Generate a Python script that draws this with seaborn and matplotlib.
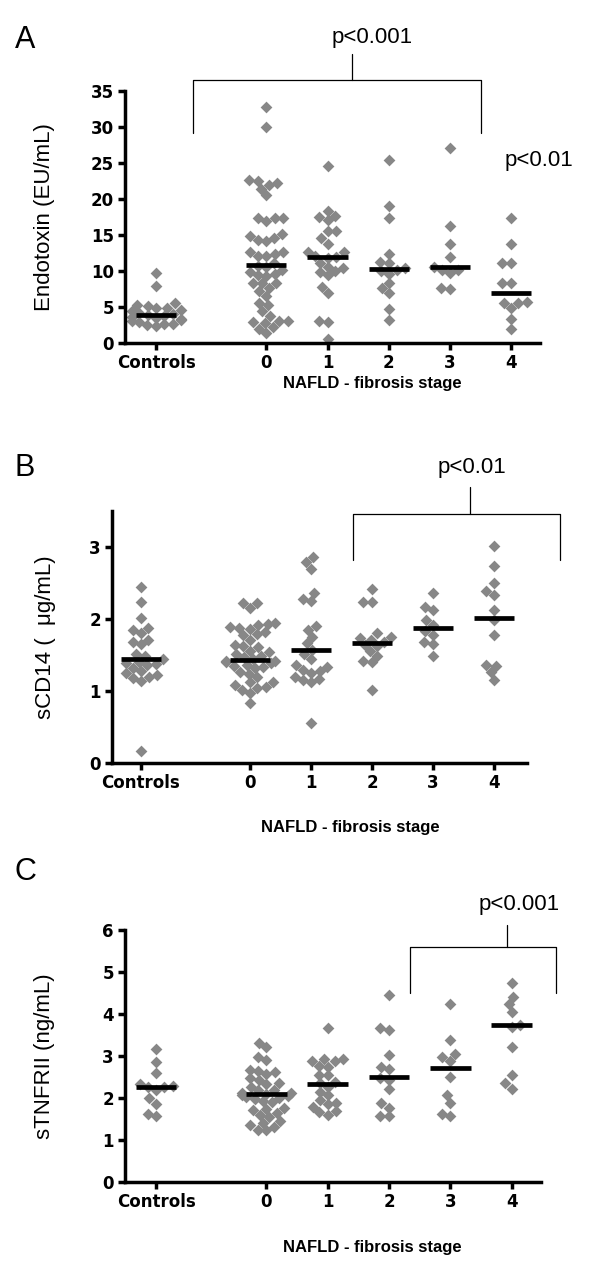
import pandas as pd
import matplotlib
matplotlib.use("Agg")
from matplotlib import pyplot as plt
import seaborn as sns

groups = ["Controls", "0", "1", "2", "3", "4"]

# A - endotoxin (EU/mL)
endo_controls = [9.7, 7.9, 5.5, 5.3, 5.2, 4.9, 4.8, 4.6, 4.4, 4.2, 4.0, 3.9,
                 3.8, 3.6, 3.5, 3.3, 3.2, 3.0, 2.9, 2.7, 2.6, 2.5, 2.3]
endo_f0 = [32.8, 30.0, 22.6, 22.5, 22.2, 21.9, 21.4, 20.5, 17.4, 17.3, 17.3, 17.0,
           15.1, 14.9, 14.6, 14.3, 14.1, 12.7, 12.7, 12.4, 12.1, 12.1, 11.1, 10.7,
           10.5, 10.2, 9.8, 9.6, 9.4, 9.3, 8.4, 8.3, 8.3, 7.6, 7.2, 6.5, 5.6, 5.3,
           4.4, 3.8, 3.0, 3.0, 2.9, 2.8, 2.2, 2.0, 1.4]
endo_f1 = [24.6, 18.4, 17.6, 17.5, 17.1, 15.6, 15.5, 14.6, 13.8, 12.7, 12.6, 12.1,
           12.0, 11.8, 11.1, 10.6, 10.4, 10.0, 9.9, 9.4, 7.8, 6.9, 3.0, 2.9, 0.5]
endo_f2 = [25.4, 19.0, 17.3, 12.3, 11.2, 11.1, 10.4, 10.1, 10.0, 9.6, 8.3, 7.7,
           7.0, 4.7, 3.2]
endo_f3 = [27.1, 16.2, 13.7, 11.9, 10.6, 10.2, 10.2, 9.7, 7.6, 7.5]
endo_f4 = [17.3, 13.7, 11.1, 11.1, 8.3, 8.3, 5.7, 5.5, 5.5, 4.8, 3.4, 2.0]
endo_median = [3.9, 10.9, 12.0, 10.3, 10.5, 7.0]

# B - sCD14 (ug/mL)
cd14_controls = [2.45, 2.24, 2.02, 1.88, 1.85, 1.81, 1.71, 1.68, 1.65, 1.51, 1.49,
                 1.45, 1.40, 1.39, 1.38, 1.36, 1.32, 1.28, 1.25, 1.22, 1.19, 1.18,
                 1.14, 0.16]
cd14_f0 = [2.22, 2.22, 2.15, 1.95, 1.93, 1.91, 1.89, 1.88, 1.86, 1.82, 1.79, 1.78,
           1.71, 1.64, 1.62, 1.61, 1.55, 1.54, 1.51, 1.48, 1.47, 1.44, 1.42, 1.41,
           1.40, 1.39, 1.36, 1.35, 1.34, 1.32, 1.27, 1.24, 1.20, 1.13, 1.12, 1.08,
           1.06, 1.04, 1.01, 0.97, 0.84]
cd14_f1 = [2.86, 2.79, 2.70, 2.36, 2.28, 2.25, 1.90, 1.85, 1.75, 1.66, 1.57, 1.52,
           1.45, 1.36, 1.34, 1.29, 1.28, 1.25, 1.20, 1.16, 1.15, 1.12, 0.56]
cd14_f2 = [2.41, 2.24, 2.23, 1.80, 1.75, 1.74, 1.71, 1.68, 1.64, 1.62, 1.55, 1.49,
           1.41, 1.40, 1.01]
cd14_f3 = [2.36, 2.16, 2.12, 1.99, 1.92, 1.84, 1.78, 1.68, 1.65, 1.48]
cd14_f4 = [3.02, 2.74, 2.50, 2.39, 2.33, 2.13, 1.99, 1.78, 1.36, 1.35, 1.26, 1.15]
cd14_median = [1.44, 1.43, 1.57, 1.67, 1.88, 2.02]

# C - sTNFRII (ng/mL)
tnf_controls = [3.16, 2.85, 2.59, 2.33, 2.28, 2.27, 2.26, 2.20, 1.99, 1.86, 1.61, 1.56]
tnf_f0 = [3.32, 3.22, 2.98, 2.90, 2.67, 2.65, 2.63, 2.57, 2.47, 2.43, 2.36, 2.34,
          2.27, 2.19, 2.18, 2.13, 2.12, 2.10, 2.07, 2.05, 2.02, 1.99, 1.98, 1.92,
          1.90, 1.76, 1.74, 1.71, 1.65, 1.60, 1.55, 1.46, 1.41, 1.36, 1.32, 1.25, 1.23]
tnf_f1 = [3.67, 2.94, 2.93, 2.89, 2.87, 2.76, 2.75, 2.55, 2.54, 2.39, 2.35, 2.27,
          2.15, 2.07, 1.95, 1.88, 1.86, 1.79, 1.68, 1.66, 1.60]
tnf_f2 = [4.45, 3.66, 3.62, 3.02, 2.75, 2.68, 2.47, 2.43, 2.21, 1.87, 1.77, 1.57, 1.56]
tnf_f3 = [4.25, 3.38, 3.05, 2.98, 2.89, 2.51, 2.07, 1.89, 1.62, 1.57]
tnf_f4 = [4.75, 4.41, 4.23, 4.04, 3.75, 3.70, 3.21, 2.55, 2.35, 2.21]
tnf_median = [2.27, 2.10, 2.34, 2.51, 2.71, 3.74]

# layout: controls sit a bit further away from the fibrosis stages
group_pos = [0, 1.8, 2.8, 3.8, 4.8, 5.8]
POINT = "#878787"


def long_df(series):
    rows = []
    for pos, vals in zip(group_pos, series):
        for v in vals:
            rows.append({"pos": pos, "value": v})
    return pd.DataFrame(rows)


def draw_panel(ax, series, medians, ylim, yticks, ylabel, xlim, ylab_x, xlab_xy):
    df = long_df(series)
    sns.swarmplot(data=df, x="pos", y="value", native_scale=True, orient="x",
                  marker="D", color=POINT, size=6, linewidth=0, ax=ax, zorder=2,
                  warn_thresh=1)
    for pos, med in zip(group_pos, medians):
        ax.hlines(med, pos - 0.33, pos + 0.33, color="black", lw=3.4, zorder=3)
    ax.set_xlim(*xlim)
    ax.set_ylim(*ylim)
    ax.set_xticks(group_pos, groups)
    ax.set_yticks(yticks)
    sns.despine(ax=ax)
    for sp in ("left", "bottom"):
        ax.spines[sp].set_linewidth(2.5)
        ax.spines[sp].set_color("black")
    ax.tick_params(width=2.5, length=5, labelsize=12, pad=3, colors="black")
    for lab in ax.get_xticklabels() + ax.get_yticklabels():
        lab.set_fontweight("bold")
        lab.set_family("DejaVu Sans")
    ax.set_ylabel(ylabel, fontsize=16, va="center", color="black")
    ax.yaxis.set_label_coords(ylab_x, 0.5)
    ax.set_xlabel("NAFLD - fibrosis stage", fontsize=12, fontweight="bold",
                  va="center", color="black")
    ax.xaxis.set_label_coords(*xlab_xy)


def bracket(ax, x0, x1, y_leg, y_top, xc, y_tick, text, xt, yt):
    ax.plot([x0, x0, x1, x1], [y_leg, y_top, y_top, y_leg], color="black", lw=0.9,
            clip_on=False, zorder=4)
    ax.plot([xc, xc], [y_top, y_tick], color="black", lw=0.9, clip_on=False, zorder=4)
    ax.text(xt, yt, text, fontsize=16, ha="center", va="center", color="black")


sns.set_style("ticks")
plt.rcParams["font.family"] = ["Liberation Sans", "DejaVu Sans"]
plt.rcParams["text.color"] = "black"
plt.rcParams["axes.labelcolor"] = "black"

fig = plt.figure(figsize=(6, 12.72), dpi=100)
axA = fig.add_axes([125 / 600, 1 - 343 / 1272, 415 / 600, 252 / 1272])
axB = fig.add_axes([112 / 600, 1 - 763 / 1272, 415 / 600, 252 / 1272])
axC = fig.add_axes([125 / 600, 1 - 1182 / 1272, 416 / 600, 252 / 1272])

draw_panel(axA, [endo_controls, endo_f0, endo_f1, endo_f2, endo_f3, endo_f4],
           endo_median, (0, 35), range(0, 36, 5), "Endotoxin (EU/mL)",
           (-0.507, 6.27), -0.193, (0.595, -0.159))
draw_panel(axB, [cd14_controls, cd14_f0, cd14_f1, cd14_f2, cd14_f3, cd14_f4],
           cd14_median, (0, 3.5), range(0, 4), "sCD14 (  \u03bcg/mL)",
           (-0.477, 6.35), -0.161, (0.575, -0.254))
draw_panel(axC, [tnf_controls, tnf_f0, tnf_f1, tnf_f2, tnf_f3, tnf_f4],
           tnf_median, (0, 6), range(0, 7), "sTNFRII (ng/mL)",
           (-0.507, 6.28), -0.193, (0.594, -0.258))

bracket(axA, 0.6, 5.3, 29.2, 36.5, 3.2, 40.1, "p<0.001", 3.53, 42.4)
axA.text(6.26, 25.4, "p<0.01", fontsize=16, ha="center", va="center")
bracket(axB, 3.49, 6.9, 2.82, 3.46, 5.42, 3.83, "p<0.01", 5.45, 4.1)
bracket(axC, 4.15, 6.52, 4.5, 5.6, 5.72, 6.12, "p<0.001", 5.93, 6.6)

for letter, y in (("A", 40), ("B", 468), ("C", 872)):
    fig.text(25 / 600, 1 - y / 1272, letter, fontsize=22, ha="center", va="center")

fig.savefig("out.png", dpi=100)
